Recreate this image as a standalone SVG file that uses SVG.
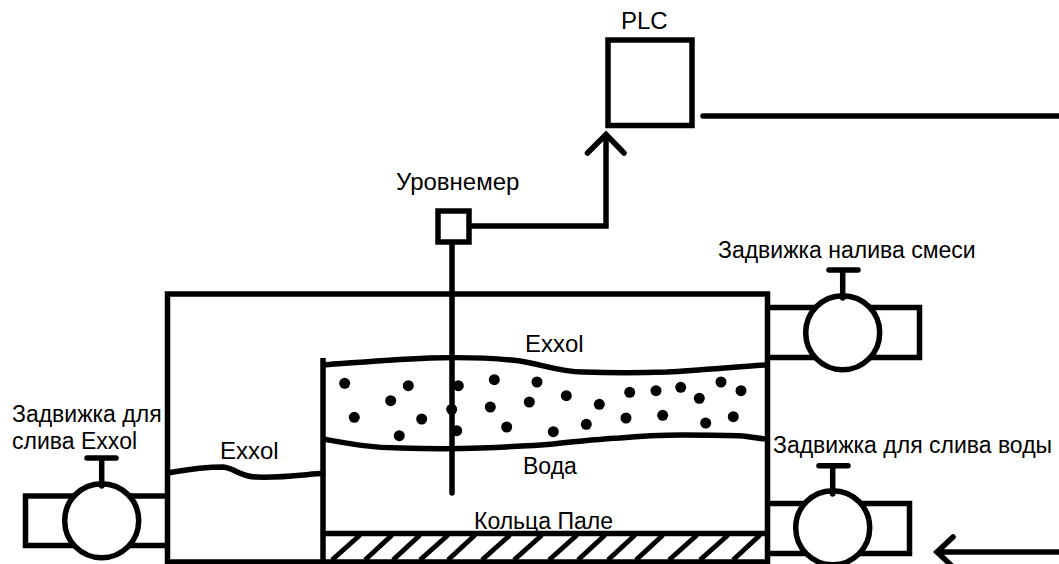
<svg xmlns="http://www.w3.org/2000/svg" width="1059" height="564" viewBox="0 0 1059 564">
<style>
.l{fill:none;stroke:#000;stroke-width:5.5}
.r{stroke-linecap:round;stroke-linejoin:miter}
.f{fill:#fff;stroke:#000;stroke-width:5.5}
.h{fill:none;stroke:#000;stroke-width:5}
.d{fill:#000}
.b{font-size:24px}
text{font-family:"Liberation Sans",Arial,sans-serif;font-size:23px;fill:#000}
</style>
<rect width="1059" height="564" fill="#fff"/>
<g id="tank">
<rect class="l" x="167.500" y="294" width="600" height="268"/>
<path class="l" d="M323 358V564M323 533.500H767"/>
<path class="h" d="M332 560L360 535M365 560L392 535M393 560L420 535M420 560L448 535M448 560L475 535M482 560L510 535M514 560L542 535M549 560L577 535M578 560L605 535M608 560L635 535M636 560L663 535M669 560L697 535M700 560L728 535M733 560L760 535"/>
<path class="l" d="M323 365C350 363 385 360 430 358C465 357 495 358 520 361C540 364 560 372 583 372C610 373 640 373 667 372C700 370 735 367 765 365"/>
<path class="l" d="M323 439C345 443 370 448 400 448C430 449 455 449 480 448C505 447 530 446 553 444C580 441 600 439 620 438C640 436 660 435 683 435C705 435 725 435 743 436L765 439"/>
<path class="l" d="M168 473C185 470 200 467 223 467C235 468 240 477 257 477C280 478 300 475 325 473"/>
<g class="d">
<circle cx="344.700" cy="383.300" r="5.500"/><circle cx="408.300" cy="385.700" r="5.500"/><circle cx="390.700" cy="400.700" r="5.500"/><circle cx="354.300" cy="417.300" r="5.500"/><circle cx="421.700" cy="419" r="5.500"/><circle cx="399.300" cy="435.700" r="5.500"/><circle cx="458.300" cy="385.700" r="5.500"/><circle cx="451.700" cy="409.300" r="5.500"/><circle cx="456.700" cy="430.700" r="5.500"/><circle cx="494.300" cy="379.700" r="5.500"/><circle cx="537" cy="382" r="5.500"/><circle cx="490.300" cy="407" r="5.500"/><circle cx="529.300" cy="402" r="5.500"/><circle cx="566.300" cy="395.700" r="5.500"/><circle cx="599.300" cy="404.300" r="5.500"/><circle cx="506.700" cy="427" r="5.500"/><circle cx="553.300" cy="431.700" r="5.500"/><circle cx="586.300" cy="424.300" r="5.500"/><circle cx="629.700" cy="392.300" r="5.500"/><circle cx="656" cy="390.700" r="5.500"/><circle cx="680.700" cy="387.300" r="5.500"/><circle cx="699.300" cy="398.300" r="5.500"/><circle cx="721" cy="382" r="5.500"/><circle cx="741" cy="390.700" r="5.500"/><circle cx="626" cy="418" r="5.500"/><circle cx="662.700" cy="415.300" r="5.500"/><circle cx="705.700" cy="423" r="5.500"/><circle cx="733.300" cy="416.700" r="5.500"/>
</g>
<text class="b" x="525" y="352">Exxol</text>
<text class="b" x="220" y="459">Exxol</text>
<text x="523" y="474">Вода</text>
<text x="474" y="529">Кольца Пале</text>
</g>
<g id="plc">
<rect class="l" x="608" y="40" width="84" height="85.500"/>
<text class="b" x="621" y="29">PLC</text>
</g>
<g id="level-sensor">
<rect class="l" x="438" y="211" width="31" height="31"/>
<path class="l r" d="M452 245V493"/>
<text class="b" x="396" y="190">Уровнемер</text>
</g>
<g id="valve-fill">
<path class="l" d="M767 307.500H919.500V357.500H767"/>
<circle class="f" cx="842.700" cy="332.700" r="37"/>
<path class="l r" d="M842.700 270V298M829 270H858"/>
<text x="718" y="258">Задвижка налива смеси</text>
</g>
<g id="valve-water">
<path class="l" d="M767 503.500H909.500V553.500H767"/>
<circle class="f" cx="832.700" cy="527.700" r="37"/>
<path class="l r" d="M832.700 465.700V494M819 465.700H848"/>
<text x="773" y="453">Задвижка для слива воды</text>
</g>
<g id="valve-exxol">
<path class="l" d="M165 496H25.500V545.500H165"/>
<circle class="f" cx="101.700" cy="520.700" r="37"/>
<path class="l r" d="M101.700 458V486M87 458H116"/>
<text x="12" y="422">Задвижка для</text>
<text x="12" y="449">слива Exxol</text>
</g>
<g id="connectors">
<path class="l" d="M469 226H606V134"/>
<path class="l r" d="M587.500 153L606 134.500L624 153"/>
<path class="l r" d="M703 116H1059"/>
<path class="l r" d="M1059 552H938M953 537L937 552L953 567"/>
</g>
</svg>
